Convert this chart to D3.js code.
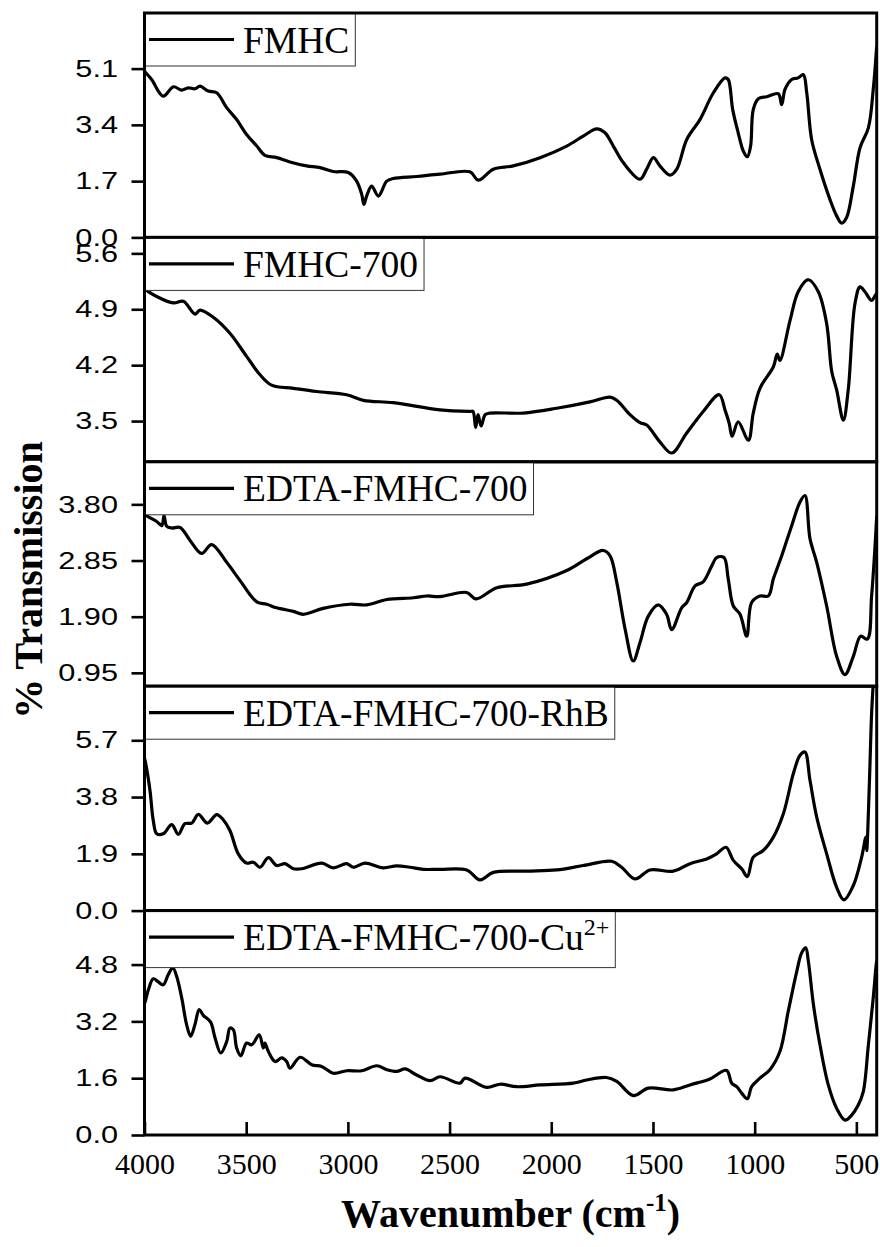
<!DOCTYPE html>
<html>
<head>
<meta charset="utf-8">
<script src="https://cdn.jsdelivr.net/npm/d3@7"></script>
<style>
  body { margin: 0; background: #fff; }
  svg { display: block; }
</style>
</head>
<body>
<svg id="chart" width="880" height="1247"></svg>
<script>
// FTIR spectra, wavenumber (cm^-1) vs % transmission, one stacked panel per sample
const wavenumberDomain = [4000, 400];
const xTickValues = [4000, 3500, 3000, 2500, 2000, 1500, 1000, 500];

const sampleNames = ["FMHC", "FMHC-700", "EDTA-FMHC-700", "EDTA-FMHC-700-RhB", "EDTA-FMHC-700-Cu"];

// y ranges and tick values of each panel
const fmhcRange = [0, 6.78];
const fmhcTicks = [0, 1.7, 3.4, 5.1];
const fmhc700Range = [2.99, 5.8];
const fmhc700Ticks = [3.5, 4.2, 4.9, 5.6];
const edtaRange = [0.724, 4.52];
const edtaTicks = [0.95, 1.9, 2.85, 3.8];
const rhbRange = [0, 7.51];
const rhbTicks = [0, 1.9, 3.8, 5.7];
const cuRange = [0, 6.32];
const cuTicks = [0, 1.6, 3.2, 4.8];

// [wavenumber, transmission]
const fmhc = [[4000,5.02],[3965,4.77],[3908,4.27],[3858,4.55],[3817,4.45],[3785,4.52],[3752,4.49],[3727,4.57],[3686,4.42],[3645,4.37],[3596,3.92],[3547,3.56],[3498,3.11],[3448,2.76],[3408,2.48],[3350,2.41],[3285,2.28],[3203,2.16],[3137,2.11],[3072,1.99],[2998,1.96],[2957,1.70],[2932,1.30],[2921,1.00],[2908,1.25],[2883,1.55],[2850,1.25],[2809,1.70],[2777,1.78],[2662,1.84],[2547,1.91],[2400,1.98],[2359,1.73],[2285,2.06],[2187,2.16],[2055,2.41],[1924,2.76],[1843,3.06],[1777,3.28],[1736,3.16],[1695,2.76],[1646,2.26],[1564,1.76],[1531,2.06],[1498,2.41],[1466,2.16],[1416,1.88],[1383,2.06],[1334,2.96],[1269,3.56],[1203,4.37],[1146,4.82],[1130,4.77],[1108,3.86],[1081,3.16],[1056,2.61],[1036,2.44],[1020,2.76],[1007,3.86],[982,4.19],[941,4.25],[884,4.34],[867,4.01],[851,4.47],[818,4.77],[786,4.82],[761,4.92],[744,4.37],[720,2.96],[679,2.06],[630,1.15],[597,0.65],[572,0.43],[548,0.60],[515,1.55],[482,2.71],[441,3.31],[417,4.47],[400,5.77]];

const fmhc700 = [[4000,5.2],[3989,5.14],[3940,5.06],[3858,4.98],[3809,5.0],[3752,4.84],[3727,4.89],[3662,4.80],[3580,4.60],[3498,4.31],[3432,4.08],[3375,3.95],[3268,3.91],[3153,3.87],[3006,3.83],[2924,3.76],[2777,3.73],[2547,3.64],[2400,3.62],[2385,3.62],[2372,3.42],[2360,3.58],[2345,3.44],[2325,3.58],[2301,3.60],[2138,3.60],[1973,3.66],[1810,3.74],[1711,3.80],[1678,3.76],[1613,3.58],[1564,3.48],[1531,3.45],[1466,3.24],[1408,3.10],[1334,3.35],[1253,3.62],[1174,3.83],[1146,3.64],[1125,3.47],[1111,3.31],[1081,3.49],[1031,3.26],[1007,3.60],[974,3.91],[908,4.18],[889,4.34],[876,4.26],[826,4.76],[786,5.12],[736,5.27],[687,5.12],[646,4.72],[621,4.12],[597,3.89],[564,3.51],[540,3.89],[507,4.97],[482,5.18],[458,5.12],[425,5.01],[408,5.07],[400,5.1]];

const edtaFmhc700 = [[4000,3.66],[3989,3.61],[3940,3.51],[3915,3.44],[3904,3.61],[3891,3.43],[3866,3.40],[3825,3.41],[3776,3.19],[3719,2.97],[3670,3.12],[3596,2.82],[3530,2.51],[3448,2.15],[3399,2.11],[3350,2.05],[3268,1.99],[3219,1.94],[3121,2.04],[2990,2.11],[2907,2.10],[2809,2.19],[2678,2.22],[2612,2.25],[2547,2.24],[2416,2.31],[2370,2.20],[2268,2.39],[2121,2.45],[1924,2.68],[1826,2.88],[1744,3.02],[1711,2.93],[1678,2.48],[1637,1.69],[1597,1.15],[1564,1.46],[1523,1.91],[1474,2.10],[1433,1.94],[1408,1.68],[1359,2.05],[1334,2.14],[1293,2.42],[1253,2.49],[1211,2.76],[1187,2.90],[1151,2.90],[1130,2.54],[1105,2.08],[1072,1.94],[1039,1.57],[1015,2.14],[974,2.25],[933,2.25],[908,2.54],[867,2.93],[818,3.44],[777,3.84],[753,3.95],[728,3.22],[695,2.82],[646,2.08],[597,1.23],[556,0.92],[515,1.23],[479,1.57],[446,1.52],[425,2.25],[408,3.10],[400,3.6]];

const edtaRhb = [[4000,5.1],[3994,4.92],[3973,4.02],[3957,3.02],[3940,2.57],[3908,2.57],[3866,2.88],[3834,2.55],[3801,2.91],[3768,2.93],[3735,3.22],[3691,2.93],[3645,3.21],[3613,3.04],[3580,2.68],[3539,1.90],[3498,1.59],[3465,1.62],[3432,1.45],[3391,1.77],[3350,1.51],[3309,1.57],[3268,1.40],[3227,1.40],[3129,1.59],[3072,1.43],[3006,1.57],[2973,1.45],[2916,1.59],[2826,1.43],[2760,1.50],[2695,1.45],[2629,1.38],[2547,1.38],[2416,1.36],[2350,1.03],[2285,1.28],[2121,1.32],[1973,1.36],[1843,1.51],[1703,1.65],[1654,1.45],[1588,1.06],[1515,1.36],[1400,1.32],[1318,1.57],[1236,1.73],[1187,1.90],[1141,2.12],[1105,1.68],[1064,1.40],[1036,1.14],[1007,1.79],[958,2.01],[908,2.46],[859,3.24],[810,4.58],[777,5.20],[753,5.31],[728,4.36],[695,3.13],[646,1.90],[597,0.78],[561,0.36],[515,0.84],[474,1.79],[453,2.46],[449,2.01],[441,3.24],[433,4.92],[425,6.60],[417,7.6]];

const edtaCu = [[4000,3.7],[3994,3.81],[3981,4.09],[3957,4.40],[3932,4.31],[3908,4.23],[3883,4.52],[3861,4.71],[3842,4.47],[3817,3.86],[3793,3.11],[3773,2.78],[3752,3.11],[3731,3.53],[3711,3.37],[3675,3.18],[3653,2.73],[3625,2.31],[3596,2.63],[3580,3.01],[3563,2.96],[3547,2.45],[3527,2.23],[3498,2.59],[3473,2.54],[3436,2.82],[3416,2.45],[3408,2.59],[3391,2.35],[3358,2.07],[3325,2.17],[3301,2.07],[3285,1.88],[3235,2.19],[3178,1.98],[3129,1.93],[3072,1.74],[3006,1.81],[2932,1.81],[2858,1.95],[2809,1.84],[2760,1.79],[2719,1.86],[2662,1.69],[2596,1.53],[2547,1.64],[2449,1.46],[2424,1.60],[2318,1.34],[2252,1.43],[2170,1.36],[2055,1.41],[1892,1.46],[1826,1.55],[1728,1.62],[1678,1.51],[1597,1.11],[1523,1.32],[1400,1.27],[1318,1.41],[1220,1.58],[1138,1.82],[1113,1.46],[1088,1.36],[1064,1.18],[1036,1.02],[1015,1.36],[974,1.60],[925,1.84],[876,2.35],[835,3.48],[793,4.61],[769,5.13],[749,5.27],[736,4.89],[711,3.67],[679,2.54],[638,1.41],[597,0.75],[556,0.42],[523,0.56],[490,0.85],[466,1.22],[441,2.54],[417,3.86],[404,4.71],[400,4.9]];

const panels = [
  { name: sampleNames[0], sup: null, data: fmhc, range: fmhcRange, ticks: fmhcTicks, digits: 1 },
  { name: sampleNames[1], sup: null, data: fmhc700, range: fmhc700Range, ticks: fmhc700Ticks, digits: 1 },
  { name: sampleNames[2], sup: null, data: edtaFmhc700, range: edtaRange, ticks: edtaTicks, digits: 2 },
  { name: sampleNames[3], sup: null, data: edtaRhb, range: rhbRange, ticks: rhbTicks, digits: 1 },
  { name: sampleNames[4], sup: "2+", data: edtaCu, range: cuRange, ticks: cuTicks, digits: 1 }
];

const serif = "'Liberation Serif', 'Times New Roman', serif";
const sans = "'Liberation Sans', Arial, sans-serif";

const svg = d3.select("#chart");
const plotLeft = 144.5, plotRight = 876.7, plotTop = 13, plotBottom = 1135;
const panelH = (plotBottom - plotTop) / panels.length;

const x = d3.scaleLinear().domain(wavenumberDomain).range([plotLeft, plotRight]);

const labelScale = 1.28; // wide tick-label lettering

panels.forEach((p, i) => {
  const top = plotTop + i * panelH;
  const bottom = top + panelH;
  const y = d3.scaleLinear().domain(p.range).range([bottom, top]);

  const clipId = "clip-" + i;
  svg.append("clipPath").attr("id", clipId)
    .append("rect").attr("x", plotLeft).attr("y", top)
    .attr("width", plotRight - plotLeft).attr("height", panelH);

  const line = d3.line()
    .x(d => x(d[0]))
    .y(d => y(d[1]))
    .curve(d3.curveCatmullRom.alpha(0.5));

  svg.append("path")
    .datum(p.data)
    .attr("clip-path", `url(#${clipId})`)
    .attr("d", line)
    .attr("fill", "none")
    .attr("stroke", "#000")
    .attr("stroke-width", 3.2)
    .attr("stroke-linejoin", "round");

  // legend box with sample name
  const lg = svg.append("g");
  const boxH = p.sup ? 57 : 53;
  const box = lg.append("rect")
    .attr("x", plotLeft).attr("y", top)
    .attr("height", boxH)
    .attr("fill", "#fff")
    .attr("stroke", "#333")
    .attr("stroke-width", 1);
  lg.append("line")
    .attr("x1", 149).attr("x2", 234)
    .attr("y1", top + 26.5).attr("y2", top + 26.5)
    .attr("stroke", "#000").attr("stroke-width", 3.2);
  const txt = lg.append("text")
    .attr("x", 243).attr("y", top + 39.5)
    .attr("font-family", serif)
    .attr("font-size", 37.5)
    .attr("fill", "#000")
    .text(p.name);
  if (p.sup) {
    txt.append("tspan").attr("dy", -15).attr("font-size", 24).text(p.sup);
  }
  const tw = txt.node().getBBox();
  box.attr("width", tw.x + tw.width + 6 - plotLeft);

  // panel frame
  svg.append("rect")
    .attr("x", plotLeft).attr("y", top)
    .attr("width", plotRight - plotLeft).attr("height", panelH)
    .attr("fill", "none").attr("stroke", "#000").attr("stroke-width", 3);

  // y axis
  const fmt = d3.format("." + p.digits + "f");
  const ya = svg.append("g")
    .attr("transform", `translate(${plotLeft},0)`)
    .call(d3.axisLeft(y).tickValues(p.ticks).tickFormat(fmt).tickSize(13).tickSizeOuter(0));
  ya.select(".domain").remove();
  ya.selectAll(".tick line").attr("stroke", "#000").attr("stroke-width", 2.6);
  ya.selectAll(".tick text")
    .attr("font-family", sans)
    .attr("font-size", 24)
    .attr("fill", "#000")
    .attr("x", -26.5 / labelScale)
    .attr("transform", `scale(${labelScale},1)`);

  // x ticks only on the bottom panel
  if (i === panels.length - 1) {
    const xa = svg.append("g")
      .attr("transform", `translate(0,${bottom})`)
      .call(d3.axisBottom(x).tickValues(xTickValues).tickFormat(d3.format("d")).tickSizeInner(-13).tickSizeOuter(0));
    xa.select(".domain").remove();
    xa.selectAll(".tick line").attr("stroke", "#000").attr("stroke-width", 2.6);
    xa.selectAll(".tick text")
      .attr("font-family", serif)
      .attr("font-size", 30)
      .attr("fill", "#000")
      .attr("y", 39)
      .attr("dy", 0);
  }
});

// axis titles
const xt = svg.append("text")
  .attr("x", (plotLeft + plotRight) / 2)
  .attr("y", 1227)
  .attr("text-anchor", "middle")
  .attr("font-family", serif)
  .attr("font-weight", "bold")
  .attr("font-size", 40)
  .attr("fill", "#000")
  .text("Wavenumber (cm");
xt.append("tspan").attr("dy", -16).attr("font-size", 25).text("-1");
xt.append("tspan").attr("dy", 16).text(")");

svg.append("text")
  .attr("transform", "translate(42,580) rotate(-90)")
  .attr("text-anchor", "middle")
  .attr("font-family", serif)
  .attr("font-weight", "bold")
  .attr("font-size", 40)
  .attr("fill", "#000")
  .text("% Transmission");
</script>
</body>
</html>
